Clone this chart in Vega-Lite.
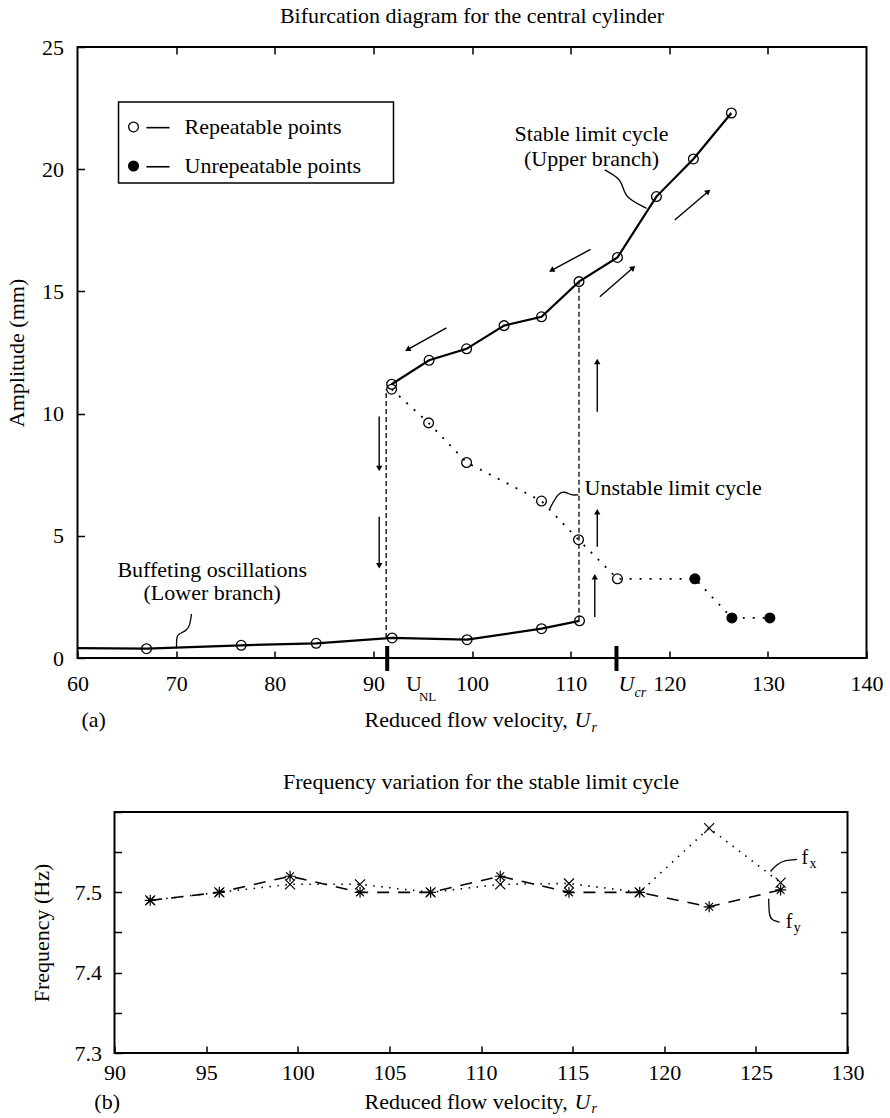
{
  "$schema": "https://vega.github.io/schema/vega-lite/v6.json",
  "padding": {"left": 3.5, "top": 4, "right": 5, "bottom": 3},
  "spacing": 33,
  "config": {
    "font": "Liberation Serif",
    "view": {"stroke": "black", "strokeWidth": 2},
    "axis": {"grid": false, "domain": false, "tickColor": "black", "tickWidth": 1.5, "tickSize": -7, "labelColor": "black", "labelFontSize": 22, "labelFont": "Liberation Serif", "labelFlush": false, "labelOverlap": false, "titleColor": "black", "titleFontSize": 22, "titleFontWeight": "normal", "titleFont": "Liberation Serif"},
    "title": {"fontSize": 22, "fontWeight": "normal", "font": "Liberation Serif", "color": "black", "frame": "group"},
    "text": {"font": "Liberation Serif", "fontSize": 22, "color": "black"}
  },
  "datasets": {
    "amplitude": [
      {"branch": "lower", "u": 60, "a": 0.4, "kind": "none"},
      {"branch": "lower", "u": 67.0, "a": 0.38, "kind": "repeatable"},
      {"branch": "lower", "u": 76.6, "a": 0.52, "kind": "repeatable"},
      {"branch": "lower", "u": 84.2, "a": 0.6, "kind": "repeatable"},
      {"branch": "lower", "u": 91.9, "a": 0.82, "kind": "repeatable"},
      {"branch": "lower", "u": 99.5, "a": 0.75, "kind": "repeatable"},
      {"branch": "lower", "u": 107.05, "a": 1.2, "kind": "repeatable"},
      {"branch": "lower", "u": 110.9, "a": 1.52, "kind": "repeatable"},
      {"branch": "upper", "u": 91.85, "a": 11.2, "kind": "repeatable"},
      {"branch": "upper", "u": 95.65, "a": 12.18, "kind": "repeatable"},
      {"branch": "upper", "u": 99.45, "a": 12.65, "kind": "repeatable"},
      {"branch": "upper", "u": 103.25, "a": 13.6, "kind": "repeatable"},
      {"branch": "upper", "u": 107.05, "a": 13.96, "kind": "repeatable"},
      {"branch": "upper", "u": 110.85, "a": 15.4, "kind": "repeatable"},
      {"branch": "upper", "u": 114.75, "a": 16.39, "kind": "repeatable"},
      {"branch": "upper", "u": 118.7, "a": 18.88, "kind": "repeatable"},
      {"branch": "upper", "u": 122.45, "a": 20.42, "kind": "repeatable"},
      {"branch": "upper", "u": 126.3, "a": 22.3, "kind": "repeatable"},
      {"branch": "unstable", "u": 91.85, "a": 11.0, "kind": "repeatable"},
      {"branch": "unstable", "u": 95.6, "a": 9.62, "kind": "repeatable"},
      {"branch": "unstable", "u": 99.45, "a": 8.0, "kind": "repeatable"},
      {"branch": "unstable", "u": 107.05, "a": 6.42, "kind": "repeatable"},
      {"branch": "unstable", "u": 110.8, "a": 4.84, "kind": "repeatable"},
      {"branch": "unstable", "u": 114.75, "a": 3.24, "kind": "repeatable"},
      {"branch": "unstable", "u": 122.6, "a": 3.24, "kind": "unrepeatable"},
      {"branch": "unstable", "u": 126.35, "a": 1.64, "kind": "unrepeatable"},
      {"branch": "unstable", "u": 130.2, "a": 1.64, "kind": "unrepeatable"}
    ],
    "guides": [
      {"u": 91.3, "a": 0.82, "a2": 11.0},
      {"u": 110.85, "a": 1.52, "a2": 15.4}
    ],
    "critical": [
      {"u": 91.4, "a": -0.53, "a2": 0.49},
      {"u": 114.65, "a": -0.53, "a2": 0.49}
    ],
    "arrows": [
      {"u": 90.59, "a": 9.88, "u2": 90.59, "a2": 7.75, "dir": 180},
      {"u": 90.59, "a": 5.78, "u2": 90.59, "a2": 3.77, "dir": 180},
      {"u": 112.7, "a": 10.08, "u2": 112.7, "a2": 12.13, "dir": 0},
      {"u": 112.7, "a": 4.55, "u2": 112.7, "a2": 5.98, "dir": 0},
      {"u": 112.45, "a": 1.68, "u2": 112.45, "a2": 3.32, "dir": 0},
      {"u": 97.41, "a": 13.51, "u2": 93.46, "a2": 12.62, "dir": 241},
      {"u": 112.02, "a": 16.72, "u2": 108.06, "a2": 15.86, "dir": 241},
      {"u": 112.96, "a": 14.78, "u2": 116.34, "a2": 15.97, "dir": 49},
      {"u": 120.56, "a": 17.92, "u2": 123.95, "a2": 19.09, "dir": 49}
    ],
    "leaders_top": [
      {"id": "stable", "i": 0, "u": 113.47, "a": 19.97},
      {"id": "stable", "i": 1, "u": 114.99, "a": 19.63},
      {"id": "stable", "i": 2, "u": 115.33, "a": 19.22},
      {"id": "stable", "i": 3, "u": 115.67, "a": 18.81},
      {"id": "stable", "i": 4, "u": 117.7, "a": 18.4},
      {"id": "unstable", "i": 0, "u": 107.89, "a": 6.11},
      {"id": "unstable", "i": 1, "u": 108.74, "a": 6.76},
      {"id": "unstable", "i": 2, "u": 109.42, "a": 6.82},
      {"id": "unstable", "i": 3, "u": 110.09, "a": 6.65},
      {"id": "unstable", "i": 4, "u": 110.77, "a": 6.68},
      {"id": "buffet", "i": 0, "u": 71.56, "a": 1.8},
      {"id": "buffet", "i": 1, "u": 71.39, "a": 1.32},
      {"id": "buffet", "i": 2, "u": 71.05, "a": 1.12},
      {"id": "buffet", "i": 3, "u": 70.21, "a": 0.98},
      {"id": "buffet", "i": 4, "u": 70.04, "a": 0.85},
      {"id": "buffet", "i": 5, "u": 70.04, "a": 0.45}
    ],
    "legend_box": [{"u": 64.16, "u2": 92.04, "a": 22.75, "a2": 19.44}],
    "legend_items": [
      {"kind": "repeatable", "u": 65.68, "a": 21.73, "lu": 66.99, "lu2": 69.33, "la": 21.7},
      {"kind": "unrepeatable", "u": 65.68, "a": 20.13, "lu": 66.99, "lu2": 69.33, "la": 20.1}
    ],
    "top_text_c": [
      {"t": "Buffeting oscillations", "u": 73.66, "a": 3.33},
      {"t": "(Lower branch)", "u": 73.66, "a": 2.38},
      {"t": "Stable limit cycle", "u": 112.12, "a": 21.15},
      {"t": "(Upper branch)", "u": 112.12, "a": 20.13}
    ],
    "top_text_l": [
      {"t": "Unstable limit cycle", "u": 111.41, "a": 6.67},
      {"t": "Repeatable points", "u": 70.85, "a": 21.44},
      {"t": "Unrepeatable points", "u": 70.85, "a": 19.84},
      {"t": "U", "u": 93.32, "a": -1.35},
      {"t": "(a)", "u": 60.4, "a": -2.82},
      {"t": "Reduced flow velocity,", "u": 89.1, "a": -2.82}
    ],
    "top_text_li": [
      {"t": "U", "u": 114.85, "a": -1.35},
      {"t": "U", "u": 110.39, "a": -2.82}
    ],
    "top_text_s": [
      {"t": "NL", "u": 94.62, "a": -1.74}
    ],
    "top_text_si": [
      {"t": "cr", "u": 116.48, "a": -1.6},
      {"t": "r", "u": 112.12, "a": -3.03}
    ],
    "freq": [
      {"comp": "fy", "u": 91.95, "f": 7.49},
      {"comp": "fy", "u": 95.72, "f": 7.5},
      {"comp": "fy", "u": 99.58, "f": 7.52},
      {"comp": "fy", "u": 103.4, "f": 7.5},
      {"comp": "fy", "u": 107.25, "f": 7.5},
      {"comp": "fy", "u": 111.05, "f": 7.52},
      {"comp": "fy", "u": 114.8, "f": 7.5},
      {"comp": "fy", "u": 118.66, "f": 7.5},
      {"comp": "fy", "u": 122.45, "f": 7.482},
      {"comp": "fy", "u": 126.35, "f": 7.503},
      {"comp": "fx", "u": 91.95, "f": 7.49},
      {"comp": "fx", "u": 95.72, "f": 7.5},
      {"comp": "fx", "u": 99.58, "f": 7.51},
      {"comp": "fx", "u": 103.4, "f": 7.51},
      {"comp": "fx", "u": 107.25, "f": 7.5},
      {"comp": "fx", "u": 111.05, "f": 7.51},
      {"comp": "fx", "u": 114.8, "f": 7.511},
      {"comp": "fx", "u": 118.66, "f": 7.5},
      {"comp": "fx", "u": 122.45, "f": 7.58},
      {"comp": "fx", "u": 126.35, "f": 7.512}
    ],
    "leaders_bot": [
      {"id": "fx", "i": 0, "u": 125.8, "f": 7.526},
      {"id": "fx", "i": 1, "u": 126.15, "f": 7.535},
      {"id": "fx", "i": 2, "u": 126.6, "f": 7.54},
      {"id": "fx", "i": 3, "u": 127.25, "f": 7.541},
      {"id": "fy", "i": 0, "u": 125.7, "f": 7.492},
      {"id": "fy", "i": 1, "u": 125.72, "f": 7.47},
      {"id": "fy", "i": 2, "u": 125.9, "f": 7.465},
      {"id": "fy", "i": 3, "u": 126.3, "f": 7.463}
    ],
    "bot_text_f": [
      {"t": "f", "u": 127.49, "f": 7.5353},
      {"t": "f", "u": 126.63, "f": 7.4554}
    ],
    "bot_text_l": [
      {"t": "(b)", "u": 88.9, "f": 7.2303},
      {"t": "Reduced flow velocity,", "u": 103.64, "f": 7.2303}
    ],
    "bot_text_li": [
      {"t": "U", "u": 115.1, "f": 7.2303}
    ],
    "bot_text_s": [
      {"t": "x", "u": 127.93, "f": 7.5303},
      {"t": "y", "u": 127.07, "f": 7.4504}
    ],
    "bot_text_si": [
      {"t": "r", "u": 116.03, "f": 7.2253}
    ],
    "spacer": [{"s": 0}]
  },
  "vconcat": [
    {
      "spacing": 0,
      "hconcat": [
        {"width": 1, "height": 1, "view": {"stroke": null}, "data": {"name": "spacer"}, "mark": {"type": "point", "opacity": 0, "size": 0, "strokeWidth": 0}, "encoding": {}},
        {
          "width": 789,
          "height": 611,
          "title": {"text": "Bifurcation diagram for the central cylinder", "offset": 8},
          "resolve": {"axis": {"x": "independent", "y": "independent"}},
          "layer": [
            {
              "data": {"name": "amplitude"},
              "transform": [{"filter": "datum.branch !== 'unstable'"}],
              "mark": {"type": "line", "strokeWidth": 2.2, "color": "black"},
              "encoding": {
                "x": {"field": "u", "type": "quantitative", "scale": {"domain": [60, 140], "nice": false, "zero": false}, "axis": {"values": [60, 70, 80, 90, 100, 110, 120, 130, 140], "labelPadding": 22, "title": null}},
                "y": {"field": "a", "type": "quantitative", "scale": {"domain": [0, 25], "nice": false, "zero": false}, "axis": {"values": [0, 5, 10, 15, 20, 25], "labelPadding": 21, "title": "Amplitude (mm)", "titleX": -61, "titleY": 305.5, "titleAngle": -90, "titleBaseline": "middle", "titleAlign": "center", "minExtent": 72, "maxExtent": 72}},
                "detail": {"field": "branch"}
              }
            },
            {
              "data": {"name": "amplitude"},
              "transform": [{"filter": "datum.branch === 'unstable'"}],
              "mark": {"type": "line", "strokeWidth": 1.8, "strokeDash": [2, 8], "color": "black"},
              "encoding": {
                "x": {"field": "u", "type": "quantitative", "scale": {"domain": [60, 140], "nice": false, "zero": false}, "axis": {"orient": "top", "values": [70, 80, 90, 100, 110, 120, 130], "labels": false, "title": null}},
                "y": {"field": "a", "type": "quantitative", "scale": {"domain": [0, 25], "nice": false, "zero": false}, "axis": null}
              }
            },
            {
              "data": {"name": "guides"},
              "mark": {"type": "rule", "strokeWidth": 1.3, "strokeDash": [5, 3], "color": "black"},
              "encoding": {
                "x": {"field": "u", "type": "quantitative", "scale": {"domain": [60, 140], "nice": false, "zero": false}, "axis": null},
                "y": {"field": "a", "type": "quantitative", "scale": {"domain": [0, 25], "nice": false, "zero": false}, "axis": null},
                "y2": {"field": "a2"}
              }
            },
            {
              "data": {"name": "critical"},
              "mark": {"type": "rule", "strokeWidth": 4, "color": "black"},
              "encoding": {
                "x": {"field": "u", "type": "quantitative", "scale": {"domain": [60, 140], "nice": false, "zero": false}, "axis": null},
                "y": {"field": "a", "type": "quantitative", "scale": {"domain": [0, 25], "nice": false, "zero": false}, "axis": null},
                "y2": {"field": "a2"}
              }
            },
            {
              "data": {"name": "arrows"},
              "mark": {"type": "rule", "strokeWidth": 1.4, "color": "black"},
              "encoding": {
                "x": {"field": "u", "type": "quantitative", "scale": {"domain": [60, 140], "nice": false, "zero": false}, "axis": null},
                "y": {"field": "a", "type": "quantitative", "scale": {"domain": [0, 25], "nice": false, "zero": false}, "axis": null},
                "x2": {"field": "u2"},
                "y2": {"field": "a2"}
              }
            },
            {
              "data": {"name": "arrows"},
              "mark": {"type": "point", "shape": "triangle-up", "filled": true, "size": 40, "color": "black", "opacity": 1},
              "encoding": {
                "x": {"field": "u2", "type": "quantitative", "scale": {"domain": [60, 140], "nice": false, "zero": false}, "axis": null},
                "y": {"field": "a2", "type": "quantitative", "scale": {"domain": [0, 25], "nice": false, "zero": false}, "axis": null},
                "angle": {"field": "dir", "type": "quantitative", "scale": null}
              }
            },
            {
              "data": {"name": "leaders_top"},
              "mark": {"type": "line", "strokeWidth": 1.3, "interpolate": "basis", "color": "black"},
              "encoding": {
                "x": {"field": "u", "type": "quantitative", "scale": {"domain": [60, 140], "nice": false, "zero": false}, "axis": null},
                "y": {"field": "a", "type": "quantitative", "scale": {"domain": [0, 25], "nice": false, "zero": false}, "axis": null},
                "detail": {"field": "id"},
                "order": {"field": "i"}
              }
            },
            {
              "data": {"name": "amplitude"},
              "transform": [{"filter": "datum.kind !== 'none'"}],
              "mark": {"type": "point", "shape": "circle", "size": 95, "filled": true, "stroke": "black", "strokeWidth": 1.3, "opacity": 1},
              "encoding": {
                "x": {"field": "u", "type": "quantitative", "scale": {"domain": [60, 140], "nice": false, "zero": false}, "axis": null},
                "y": {"field": "a", "type": "quantitative", "scale": {"domain": [0, 25], "nice": false, "zero": false}, "axis": null},
                "fill": {"field": "kind", "type": "nominal", "scale": {"domain": ["repeatable", "unrepeatable"], "range": ["transparent", "black"]}, "legend": null}
              }
            },
            {
              "data": {"name": "legend_box"},
              "mark": {"type": "rect", "fill": "white", "stroke": "black", "strokeWidth": 1.5},
              "encoding": {
                "x": {"field": "u", "type": "quantitative", "scale": {"domain": [60, 140], "nice": false, "zero": false}, "axis": null},
                "y": {"field": "a", "type": "quantitative", "scale": {"domain": [0, 25], "nice": false, "zero": false}, "axis": null},
                "x2": {"field": "u2"},
                "y2": {"field": "a2"}
              }
            },
            {
              "data": {"name": "legend_items"},
              "mark": {"type": "rule", "strokeWidth": 1.6, "color": "black"},
              "encoding": {
                "x": {"field": "lu", "type": "quantitative", "scale": {"domain": [60, 140], "nice": false, "zero": false}, "axis": null},
                "y": {"field": "la", "type": "quantitative", "scale": {"domain": [0, 25], "nice": false, "zero": false}, "axis": null},
                "x2": {"field": "lu2"}
              }
            },
            {
              "data": {"name": "legend_items"},
              "mark": {"type": "point", "shape": "circle", "size": 95, "filled": true, "stroke": "black", "strokeWidth": 1.3, "opacity": 1},
              "encoding": {
                "x": {"field": "u", "type": "quantitative", "scale": {"domain": [60, 140], "nice": false, "zero": false}, "axis": null},
                "y": {"field": "a", "type": "quantitative", "scale": {"domain": [0, 25], "nice": false, "zero": false}, "axis": null},
                "fill": {"field": "kind", "type": "nominal", "scale": {"domain": ["repeatable", "unrepeatable"], "range": ["transparent", "black"]}, "legend": null}
              }
            },
            {
              "data": {"name": "top_text_c"},
              "mark": {"type": "text", "align": "center", "baseline": "alphabetic", "fontSize": 22},
              "encoding": {
                "x": {"field": "u", "type": "quantitative", "scale": {"domain": [60, 140], "nice": false, "zero": false}, "axis": null},
                "y": {"field": "a", "type": "quantitative", "scale": {"domain": [0, 25], "nice": false, "zero": false}, "axis": null},
                "text": {"field": "t"}
              }
            },
            {
              "data": {"name": "top_text_l"},
              "mark": {"type": "text", "align": "left", "baseline": "alphabetic", "fontSize": 22},
              "encoding": {
                "x": {"field": "u", "type": "quantitative", "scale": {"domain": [60, 140], "nice": false, "zero": false}, "axis": null},
                "y": {"field": "a", "type": "quantitative", "scale": {"domain": [0, 25], "nice": false, "zero": false}, "axis": null},
                "text": {"field": "t"}
              }
            },
            {
              "data": {"name": "top_text_li"},
              "mark": {"type": "text", "align": "left", "baseline": "alphabetic", "fontSize": 22, "fontStyle": "italic"},
              "encoding": {
                "x": {"field": "u", "type": "quantitative", "scale": {"domain": [60, 140], "nice": false, "zero": false}, "axis": null},
                "y": {"field": "a", "type": "quantitative", "scale": {"domain": [0, 25], "nice": false, "zero": false}, "axis": null},
                "text": {"field": "t"}
              }
            },
            {
              "data": {"name": "top_text_s"},
              "mark": {"type": "text", "align": "left", "baseline": "alphabetic", "fontSize": 13},
              "encoding": {
                "x": {"field": "u", "type": "quantitative", "scale": {"domain": [60, 140], "nice": false, "zero": false}, "axis": null},
                "y": {"field": "a", "type": "quantitative", "scale": {"domain": [0, 25], "nice": false, "zero": false}, "axis": null},
                "text": {"field": "t"}
              }
            },
            {
              "data": {"name": "top_text_si"},
              "mark": {"type": "text", "align": "left", "baseline": "alphabetic", "fontSize": 14, "fontStyle": "italic"},
              "encoding": {
                "x": {"field": "u", "type": "quantitative", "scale": {"domain": [60, 140], "nice": false, "zero": false}, "axis": null},
                "y": {"field": "a", "type": "quantitative", "scale": {"domain": [0, 25], "nice": false, "zero": false}, "axis": null},
                "text": {"field": "t"}
              }
            }
          ]
        }
      ]
    },
    {
      "spacing": 0,
      "hconcat": [
        {"width": 1, "height": 1, "view": {"stroke": null}, "data": {"name": "spacer"}, "mark": {"type": "point", "opacity": 0, "size": 0, "strokeWidth": 0}, "encoding": {}},
        {
          "width": 733,
          "height": 241,
          "title": {"text": "Frequency variation for the stable limit cycle", "offset": 7},
          "resolve": {"axis": {"x": "independent", "y": "independent"}},
          "layer": [
            {
              "data": {"name": "freq"},
              "transform": [{"filter": "datum.comp === 'fy'"}],
              "mark": {"type": "line", "strokeWidth": 1.6, "strokeDash": [12, 9], "color": "black"},
              "encoding": {
                "x": {"field": "u", "type": "quantitative", "scale": {"domain": [90, 130], "nice": false, "zero": false}, "axis": {"values": [90, 95, 100, 105, 110, 115, 120, 125, 130], "labelPadding": 16, "title": null}},
                "y": {"field": "f", "type": "quantitative", "scale": {"domain": [7.3, 7.6], "nice": false, "zero": false}, "axis": {"values": [7.3, 7.35, 7.4, 7.45, 7.5, 7.55, 7.6], "labelExpr": "datum.value == 7.3 || datum.value == 7.4 || datum.value == 7.5 ? format(datum.value, '.1f') : ''", "labelPadding": 20, "title": "Frequency (Hz)", "titleX": -73, "titleY": 120.5, "titleAngle": -90, "titleBaseline": "middle", "titleAlign": "center", "minExtent": 109, "maxExtent": 109}}
              }
            },
            {
              "data": {"name": "freq"},
              "transform": [{"filter": "datum.comp === 'fx'"}],
              "mark": {"type": "line", "strokeWidth": 1.6, "strokeDash": [1.5, 6.5], "color": "black"},
              "encoding": {
                "x": {"field": "u", "type": "quantitative", "scale": {"domain": [90, 130], "nice": false, "zero": false}, "axis": null},
                "y": {"field": "f", "type": "quantitative", "scale": {"domain": [7.3, 7.6], "nice": false, "zero": false}, "axis": {"orient": "right", "values": [7.35, 7.4, 7.45, 7.5, 7.55], "labels": false, "title": null}}
              }
            },
            {
              "data": {"name": "freq"},
              "transform": [{"filter": "datum.comp === 'fx'"}],
              "mark": {"type": "point", "shape": "M-1,-1L1,1M-1,1L1,-1", "size": 100, "filled": false, "stroke": "black", "strokeWidth": 1.2, "opacity": 1},
              "encoding": {
                "x": {"field": "u", "type": "quantitative", "scale": {"domain": [90, 130], "nice": false, "zero": false}, "axis": null},
                "y": {"field": "f", "type": "quantitative", "scale": {"domain": [7.3, 7.6], "nice": false, "zero": false}, "axis": null}
              }
            },
            {
              "data": {"name": "freq"},
              "transform": [{"filter": "datum.comp === 'fy'"}],
              "mark": {"type": "point", "shape": "M-1,0L1,0M0,-1L0,1M-0.71,-0.71L0.71,0.71M-0.71,0.71L0.71,-0.71", "size": 121, "filled": false, "stroke": "black", "strokeWidth": 1.2, "opacity": 1},
              "encoding": {
                "x": {"field": "u", "type": "quantitative", "scale": {"domain": [90, 130], "nice": false, "zero": false}, "axis": null},
                "y": {"field": "f", "type": "quantitative", "scale": {"domain": [7.3, 7.6], "nice": false, "zero": false}, "axis": null}
              }
            },
            {
              "data": {"name": "leaders_bot"},
              "mark": {"type": "line", "strokeWidth": 1.3, "interpolate": "basis", "color": "black"},
              "encoding": {
                "x": {"field": "u", "type": "quantitative", "scale": {"domain": [90, 130], "nice": false, "zero": false}, "axis": null},
                "y": {"field": "f", "type": "quantitative", "scale": {"domain": [7.3, 7.6], "nice": false, "zero": false}, "axis": null},
                "detail": {"field": "id"},
                "order": {"field": "i"}
              }
            },
            {
              "data": {"name": "bot_text_f"},
              "mark": {"type": "text", "align": "left", "baseline": "alphabetic", "fontSize": 20},
              "encoding": {
                "x": {"field": "u", "type": "quantitative", "scale": {"domain": [90, 130], "nice": false, "zero": false}, "axis": null},
                "y": {"field": "f", "type": "quantitative", "scale": {"domain": [7.3, 7.6], "nice": false, "zero": false}, "axis": null},
                "text": {"field": "t"}
              }
            },
            {
              "data": {"name": "bot_text_l"},
              "mark": {"type": "text", "align": "left", "baseline": "alphabetic", "fontSize": 22},
              "encoding": {
                "x": {"field": "u", "type": "quantitative", "scale": {"domain": [90, 130], "nice": false, "zero": false}, "axis": null},
                "y": {"field": "f", "type": "quantitative", "scale": {"domain": [7.3, 7.6], "nice": false, "zero": false}, "axis": null},
                "text": {"field": "t"}
              }
            },
            {
              "data": {"name": "bot_text_li"},
              "mark": {"type": "text", "align": "left", "baseline": "alphabetic", "fontSize": 22, "fontStyle": "italic"},
              "encoding": {
                "x": {"field": "u", "type": "quantitative", "scale": {"domain": [90, 130], "nice": false, "zero": false}, "axis": null},
                "y": {"field": "f", "type": "quantitative", "scale": {"domain": [7.3, 7.6], "nice": false, "zero": false}, "axis": null},
                "text": {"field": "t"}
              }
            },
            {
              "data": {"name": "bot_text_s"},
              "mark": {"type": "text", "align": "left", "baseline": "alphabetic", "fontSize": 14},
              "encoding": {
                "x": {"field": "u", "type": "quantitative", "scale": {"domain": [90, 130], "nice": false, "zero": false}, "axis": null},
                "y": {"field": "f", "type": "quantitative", "scale": {"domain": [7.3, 7.6], "nice": false, "zero": false}, "axis": null},
                "text": {"field": "t"}
              }
            },
            {
              "data": {"name": "bot_text_si"},
              "mark": {"type": "text", "align": "left", "baseline": "alphabetic", "fontSize": 14, "fontStyle": "italic"},
              "encoding": {
                "x": {"field": "u", "type": "quantitative", "scale": {"domain": [90, 130], "nice": false, "zero": false}, "axis": null},
                "y": {"field": "f", "type": "quantitative", "scale": {"domain": [7.3, 7.6], "nice": false, "zero": false}, "axis": null},
                "text": {"field": "t"}
              }
            }
          ]
        }
      ]
    }
  ]
}
